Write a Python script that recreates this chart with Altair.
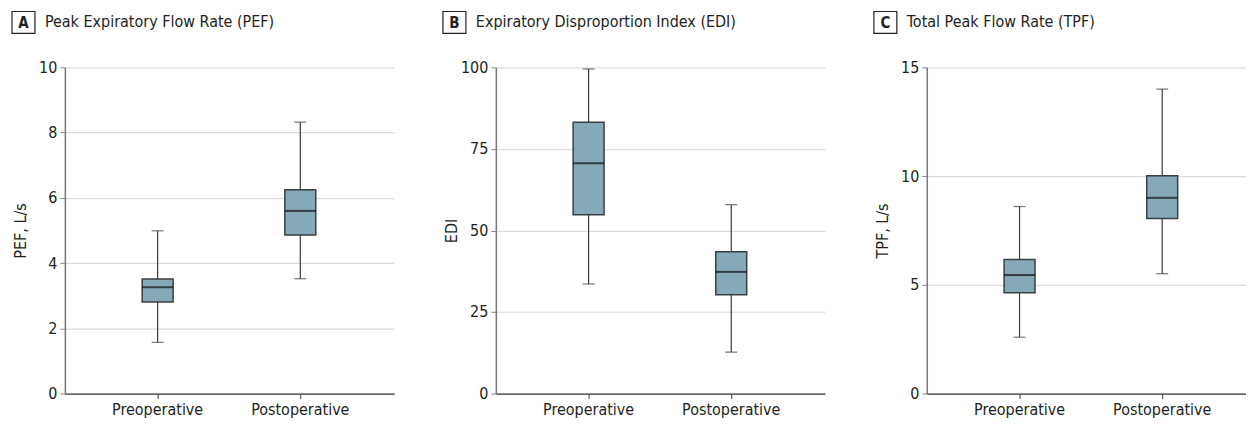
import altair as alt
import pandas as pd

FONT = "DejaVu Sans Condensed, Liberation Sans Narrow, sans-serif"

groups = ["Preoperative", "Postoperative"]

panel_letters = ["A", "B", "C"]
panel_titles = [
    "Peak Expiratory Flow Rate (PEF)",
    "Expiratory Disproportion Index (EDI)",
    "Total Peak Flow Rate (TPF)",
]
y_titles = ["PEF, L/s", "EDI", "TPF, L/s"]
y_domains = [[0, 10], [0, 100], [0, 15]]
y_ticks = [[0, 2, 4, 6, 8, 10], [0, 25, 50, 75, 100], [0, 5, 10, 15]]

# five-number summaries per group: [Preoperative, Postoperative]
pef_low = [1.57, 3.52]
pef_q1 = [2.81, 4.86]
pef_med = [3.26, 5.6]
pef_q3 = [3.51, 6.25]
pef_high = [4.99, 8.32]

edi_low = [33.6, 12.7]
edi_q1 = [54.8, 30.3]
edi_med = [70.6, 37.3]
edi_q3 = [83.2, 43.5]
edi_high = [99.5, 57.9]

tpf_low = [2.59, 5.51]
tpf_q1 = [4.64, 8.05]
tpf_med = [5.45, 9.0]
tpf_q3 = [6.17, 10.01]
tpf_high = [8.6, 14.0]

stats = [
    (pef_low, pef_q1, pef_med, pef_q3, pef_high),
    (edi_low, edi_q1, edi_med, edi_q3, edi_high),
    (tpf_low, tpf_q1, tpf_med, tpf_q3, tpf_high),
]

BOX_FILL = "#85a9b6"
BOX_STROKE = "#3a3f42"
LINE = "#3a3a3a"
TEXT = "#231f20"

widths = [330, 330, 320]
H = 327
STEP = 143.0     # distance between the two group centres
FIRST = 93.0     # first group centre from the plot's left edge


def panel(i):
    low, q1, med, q3, high = stats[i]
    W = widths[i]
    po = (W / STEP - 2) / 2
    align = (FIRST - STEP / 2) / (W - 2 * STEP)
    df = pd.DataFrame({"group": groups, "low": low, "q1": q1, "med": med, "q3": q3, "high": high})
    xs = alt.X(
        "group:N",
        sort=groups,
        scale=alt.Scale(type="band", paddingInner=0, paddingOuter=po, align=align),
        axis=alt.Axis(
            title=None, labelAngle=0, labelFontSize=16, labelFont=FONT, labelColor=TEXT,
            tickSize=5, tickColor=LINE, domainColor=LINE, domainWidth=1.2, labelPadding=3,
            grid=False, bandPosition=0.5,
        ),
    )
    ysc = alt.Scale(domain=y_domains[i], nice=False, zero=True)
    yax = alt.Axis(
        title=y_titles[i], values=y_ticks[i], grid=True, gridColor="#dcdcdc", gridWidth=1.2,
        tickSize=5, tickColor="#888888", domainColor="#777777", domainWidth=1.5,
        labelFontSize=16, labelFont=FONT, labelColor=TEXT, labelPadding=3,
        titleFontSize=16, titleFont=FONT, titleColor=TEXT, titleFontWeight="normal",
        titleX=-44, titleY=H / 2, titleAngle=-90, titleAlign="center", titleBaseline="middle",
    )
    base = alt.Chart(df)
    whisk = base.mark_rule(color=LINE, strokeWidth=1.2).encode(
        x=xs, y=alt.Y("low:Q", scale=ysc, axis=yax), y2="high:Q"
    )
    cap_lo = base.mark_tick(color=LINE, size=12, thickness=1.2).encode(x=xs, y=alt.Y("low:Q", scale=ysc))
    cap_hi = base.mark_tick(color=LINE, size=12, thickness=1.2).encode(x=xs, y=alt.Y("high:Q", scale=ysc))
    box = base.mark_bar(size=31, fill=BOX_FILL, stroke=BOX_STROKE, strokeWidth=1.5).encode(
        x=xs, y=alt.Y("q1:Q", scale=ysc), y2="q3:Q"
    )
    median = base.mark_tick(color="#111111", size=31, thickness=2).encode(x=xs, y=alt.Y("med:Q", scale=ysc))

    tdf = pd.DataFrame({"letter": [panel_letters[i]], "title": [panel_titles[i]]})
    tb = alt.Chart(tdf)
    lbox = tb.mark_rect(fill="white", stroke=TEXT, strokeWidth=1.2).encode(
        x=alt.value(-53), x2=alt.value(-30), y=alt.value(-56), y2=alt.value(-34)
    )
    letter = tb.mark_text(font=FONT, fontSize=15, fontWeight="bold", color=TEXT,
                          align="center", baseline="middle").encode(
        x=alt.value(-41.5), y=alt.value(-44.5), text="letter:N"
    )
    title = tb.mark_text(font=FONT, fontSize=16, color=TEXT, align="left", baseline="middle").encode(
        x=alt.value(-20), y=alt.value(-45), text="title:N"
    )
    return alt.layer(whisk, cap_lo, cap_hi, box, median, lbox, letter, title).properties(
        width=W, height=H
    )


chart = alt.hconcat(panel(0), panel(1), panel(2), spacing=48).properties(
    padding={"left": 3, "top": 2, "right": 0, "bottom": 0},
    background="white",
).configure_view(stroke=None)

chart.save("out.html", embed_options={"renderer": "svg", "actions": False})
